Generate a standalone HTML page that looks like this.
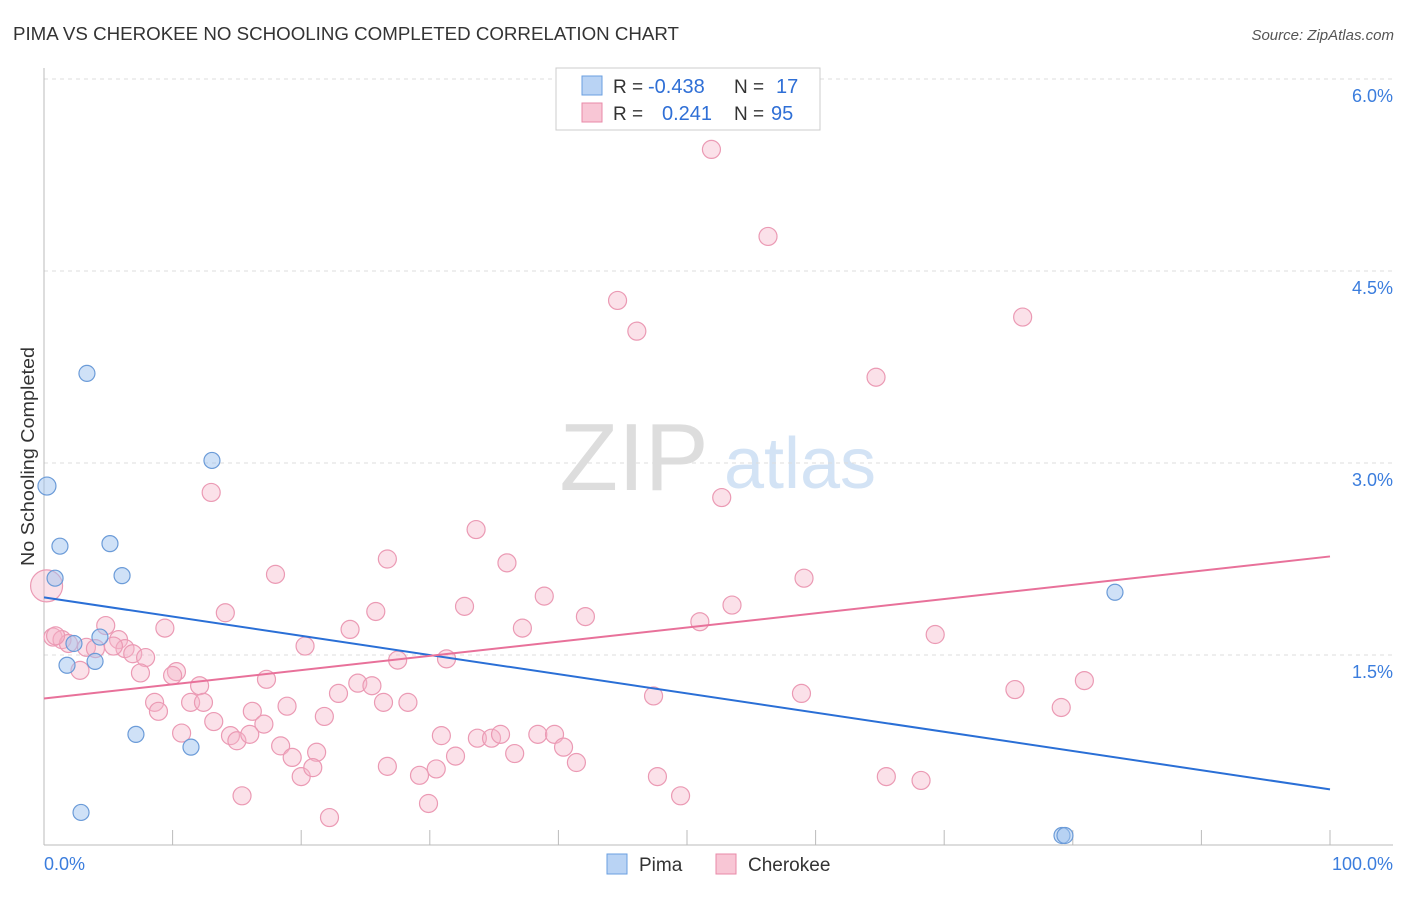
<!DOCTYPE html>
<html><head><meta charset="utf-8">
<style>
body{margin:0;background:#fff;font-family:"Liberation Sans",sans-serif;}
svg text{font-family:"Liberation Sans",sans-serif;}
</style></head>
<body>
<svg id="chart" width="1406" height="892">
<text x="13" y="40" font-size="18" fill="#333" textLength="666" lengthAdjust="spacingAndGlyphs">PIMA VS CHEROKEE NO SCHOOLING COMPLETED CORRELATION CHART</text>
<text x="1394" y="40" font-size="15" fill="#555" text-anchor="end" font-style="italic">Source: ZipAtlas.com</text>
<text transform="translate(34,566) rotate(-90)" font-size="18" fill="#333" textLength="219" lengthAdjust="spacingAndGlyphs">No Schooling Completed</text>
<g>
<text x="634" y="490" font-size="96" fill="#ddd" text-anchor="middle" font-family="Liberation Serif,serif">ZIP</text>
<text x="800" y="488" font-size="72" fill="#d3e3f5" text-anchor="middle">atlas</text>
</g>
<g id="grid"></g><g id="axes"></g><g id="marks"></g><g id="trends"></g>
<g>
<rect x="556" y="68" width="264" height="62" fill="#fff" stroke="#ccc"/>
<rect x="582" y="76" width="20" height="19" fill="#b9d3f4" stroke="#6a9fe0"/>
<rect x="582" y="103" width="20" height="19" fill="#f8c6d5" stroke="#e88aa8"/>
<text x="613" y="93" font-size="19" fill="#333">R =</text>
<text x="648" y="93" font-size="20" fill="#2f6fd6">-0.438</text>
<text x="734" y="93" font-size="19" fill="#333">N =</text>
<text x="776" y="93" font-size="20" fill="#2f6fd6">17</text>
<text x="613" y="120" font-size="19" fill="#333">R =</text>
<text x="662" y="120" font-size="20" fill="#2f6fd6">0.241</text>
<text x="734" y="120" font-size="19" fill="#333">N =</text>
<text x="771" y="120" font-size="20" fill="#2f6fd6">95</text>
</g>
<g>
<rect x="607" y="854" width="20" height="20" fill="#b9d3f4" stroke="#6a9fe0"/>
<text x="639" y="871" font-size="19" fill="#333">Pima</text>
<rect x="716" y="854" width="20" height="20" fill="#f8c6d5" stroke="#e88aa8"/>
<text x="748" y="871" font-size="19" fill="#333">Cherokee</text>
</g>
</svg>
<script>
const yTicks=[1.5,3.0,4.5,6.0];
const yTickLabels=["1.5%","3.0%","4.5%","6.0%"];
const xTickCount=10;
const pimaX=[0.23,1.24,0.86,3.34,5.13,6.07,4.35,1.79,3.97,13.06,7.15,11.43,2.88,83.28,79.16,79.39,2.33];
const pimaY=[2.82,2.35,2.10,3.70,2.37,2.12,1.64,1.42,1.45,3.02,0.88,0.78,0.27,1.99,0.09,0.09,1.59];
const cherX=[51.9,56.3,44.6,46.1,76.1,64.7,13.0,52.7,33.6,26.7,36.0,18.0,59.1,38.9,53.5,32.7,25.8,14.1,42.1,51.0,9.4,23.8,37.2,69.3,20.3,27.5,31.3,0.7,1.4,1.9,3.3,4.0,4.8,5.8,6.3,5.4,6.9,7.9,2.8,7.5,10.3,10.0,12.1,17.3,24.4,25.5,22.9,47.4,58.9,75.5,80.9,8.6,8.9,11.4,12.4,18.9,26.4,28.3,79.1,13.2,16.2,17.1,21.8,10.7,14.5,15.0,16.0,18.4,30.9,33.7,34.8,35.5,38.4,39.7,40.4,19.3,21.2,26.7,30.5,32.0,36.6,41.4,29.2,20.0,20.9,47.7,65.5,68.2,15.4,49.5,29.9,22.2,0.2,0.9];
const cherY=[5.45,4.77,4.27,4.03,4.14,3.67,2.77,2.73,2.48,2.25,2.22,2.13,2.10,1.96,1.89,1.88,1.84,1.83,1.80,1.76,1.71,1.70,1.71,1.66,1.57,1.46,1.47,1.64,1.62,1.59,1.56,1.55,1.73,1.62,1.55,1.57,1.51,1.48,1.38,1.36,1.37,1.34,1.26,1.31,1.28,1.26,1.20,1.18,1.20,1.23,1.30,1.13,1.06,1.13,1.13,1.10,1.13,1.13,1.09,0.98,1.06,0.96,1.02,0.89,0.87,0.83,0.88,0.79,0.87,0.85,0.85,0.88,0.88,0.88,0.78,0.70,0.74,0.63,0.61,0.71,0.73,0.66,0.56,0.55,0.62,0.55,0.55,0.52,0.40,0.40,0.34,0.23,2.04,1.65];
const cherSize=cherX.map((v,i)=>i===cherX.length-2?16:9);
const pimaTrend=[1.95,0.45];
const cherTrend=[1.16,2.27];
const NS="http://www.w3.org/2000/svg";
const sx=v=>44+v*12.86, sy=v=>847-v*128;
function mk(tag,attrs,parent){const e=document.createElementNS(NS,tag);for(const k in attrs)e.setAttribute(k,attrs[k]);document.getElementById(parent).appendChild(e);return e;}
yTicks.forEach((t,i)=>{
 const l=mk('line',{x1:44,x2:1393,y1:sy(t),y2:sy(t),stroke:'#ddd','stroke-dasharray':'4,4'},'grid');
 
 
 const tx=mk('text',{x:1393,y:sy(t)+23,'font-size':18,fill:'#3b7ddd','text-anchor':'end'},'grid');
 tx.textContent=yTickLabels[i];
 
 
});
let ax=mk('line',{x1:44,x2:44,y1:68,y2:845,stroke:'#bbb'},'axes');


ax=mk('line',{x1:44,x2:1393,y1:845,y2:845,stroke:'#bbb'},'axes');


for(let i=0;i<=xTickCount;i++){
 const t=mk('line',{x1:sx(i*10),x2:sx(i*10),y1:830,y2:845,stroke:'#bbb'},'axes');
 
 
}
let xl=mk('text',{x:44,y:870,'font-size':18,fill:'#3b7ddd'},'axes');xl.textContent='0.0%';


xl=mk('text',{x:1393,y:870,'font-size':18,fill:'#3b7ddd','text-anchor':'end'},'axes');xl.textContent='100.0%';


cherX.forEach((v,i)=>{
 const c=mk('circle',{cx:sx(v),cy:sy(cherY[i]),r:cherSize[i],fill:'rgba(246,180,200,0.4)',stroke:'#eb9ab4','stroke-width':1.2},'marks');
 
 
});
pimaX.forEach((v,i)=>{
 const c=mk('circle',{cx:sx(v),cy:sy(pimaY[i]),r:i===0?9:8,fill:'rgba(160,195,240,0.5)',stroke:'#6b9bd8','stroke-width':1.2},'marks');
 
 
});
let tl=mk('line',{x1:sx(0),y1:sy(pimaTrend[0]),x2:sx(100),y2:sy(pimaTrend[1]),stroke:'#2a6fd6','stroke-width':2},'trends');


tl=mk('line',{x1:sx(0),y1:sy(cherTrend[0]),x2:sx(100),y2:sy(cherTrend[1]),stroke:'#e8719a','stroke-width':2},'trends');


</script>
</body></html>
